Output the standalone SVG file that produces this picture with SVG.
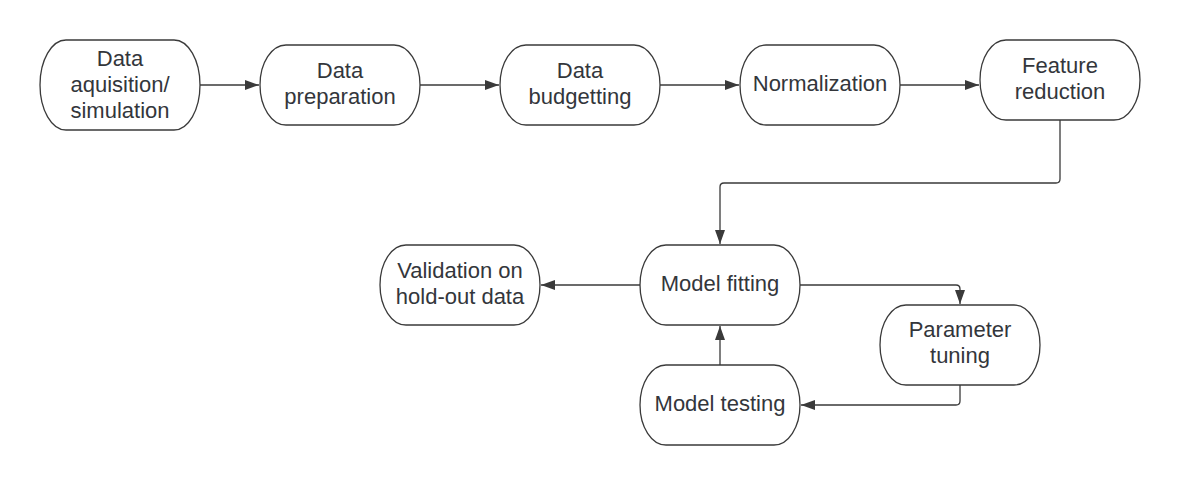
<svg xmlns="http://www.w3.org/2000/svg" width="1180" height="485" viewBox="0 0 1180 485">
<style>
.node rect{fill:#ffffff;stroke:#3a3a3a;stroke-width:1.3}
.node text{font-family:"Liberation Sans",Arial,sans-serif;font-size:22px;fill:#33363b;text-anchor:middle}
.edges path{fill:none;stroke:#3a3a3a;stroke-width:1.3}
</style>
<defs>
<marker id="arr" markerUnits="userSpaceOnUse" markerWidth="15" markerHeight="11" refX="14" refY="5.5" orient="auto">
<path d="M0,0.5 L14,5.5 L0,10.5 z" fill="#3a3a3a"/>
</marker>
</defs>
<rect width="1180" height="485" fill="#ffffff"/>
<g class="edges">
<path d="M200 85 H259" marker-end="url(#arr)"/>
<path d="M420 85 H499" marker-end="url(#arr)"/>
<path d="M660 85 H739" marker-end="url(#arr)"/>
<path d="M900 85 H979" marker-end="url(#arr)"/>
<path d="M1060 120 V179 Q1060 183 1056 183 H724 Q720 183 720 187 V244" marker-end="url(#arr)"/>
<path d="M640 285 H541" marker-end="url(#arr)"/>
<path d="M800 285 H956 Q960 285 960 289 V304" marker-end="url(#arr)"/>
<path d="M960 385 V401 Q960 405 956 405 H801" marker-end="url(#arr)"/>
<path d="M720 365 V326" marker-end="url(#arr)"/>
</g>
<g id="n1" class="node">
<rect x="40" y="40" width="160" height="90" rx="26" ry="45"/>
<text x="120" y="66">Data</text>
<text x="120" y="92">aquisition/</text>
<text x="120" y="118">simulation</text>
</g>
<g id="n2" class="node">
<rect x="260" y="45" width="160" height="80" rx="26" ry="40"/>
<text x="340" y="78">Data</text>
<text x="340" y="104">preparation</text>
</g>
<g id="n3" class="node">
<rect x="500" y="45" width="160" height="80" rx="26" ry="40"/>
<text x="580" y="78">Data</text>
<text x="580" y="104">budgetting</text>
</g>
<g id="n4" class="node">
<rect x="740" y="45" width="160" height="80" rx="26" ry="40"/>
<text x="820" y="91">Normalization</text>
</g>
<g id="n5" class="node">
<rect x="980" y="40" width="160" height="80" rx="26" ry="40"/>
<text x="1060" y="73">Feature</text>
<text x="1060" y="99">reduction</text>
</g>
<g id="n6" class="node">
<rect x="640" y="245" width="160" height="80" rx="26" ry="40"/>
<text x="720" y="291">Model fitting</text>
</g>
<g id="n7" class="node">
<rect x="380" y="245" width="160" height="80" rx="26" ry="40"/>
<text x="460" y="278">Validation on</text>
<text x="460" y="304">hold-out data</text>
</g>
<g id="n8" class="node">
<rect x="880" y="305" width="160" height="80" rx="26" ry="40"/>
<text x="960" y="337">Parameter</text>
<text x="960" y="363">tuning</text>
</g>
<g id="n9" class="node">
<rect x="640" y="365" width="160" height="80" rx="26" ry="40"/>
<text x="720" y="411">Model testing</text>
</g>
</svg>
